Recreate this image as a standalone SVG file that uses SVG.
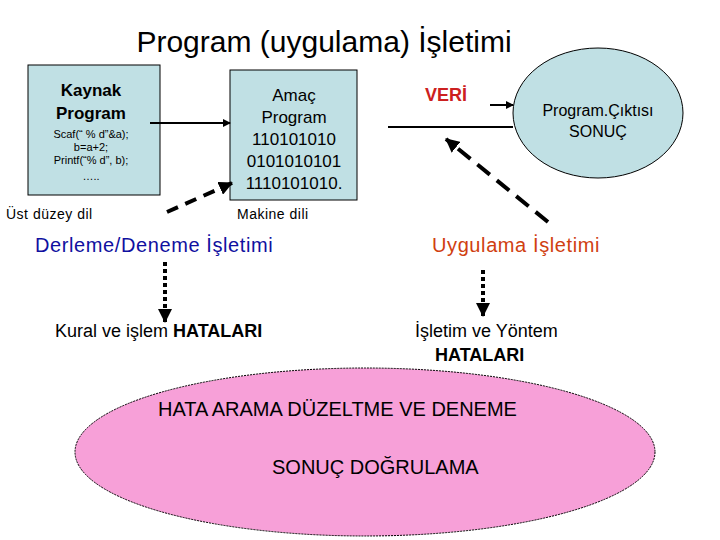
<svg xmlns="http://www.w3.org/2000/svg" width="720" height="540" viewBox="0 0 720 540">
<style>
text{font-family:"Liberation Sans",Arial,sans-serif;fill:#000}
.box{fill:#c0e0e4;stroke:#000;stroke-width:1}
.c{text-anchor:middle}
.b{font-weight:bold}
</style>
<defs>
<marker id="ah" markerWidth="8" markerHeight="8" refX="7" refY="4" orient="auto" markerUnits="userSpaceOnUse"><path d="M0,0L8,4L0,8z" fill="#000"/></marker>
<marker id="ahb" markerWidth="14" markerHeight="14" refX="13" refY="7" orient="auto" markerUnits="userSpaceOnUse"><path d="M0,0L14,7L0,14z" fill="#000"/></marker>
</defs>
<rect width="720" height="540" fill="#fff"/>
<text x="324" y="52" class="c" font-size="30">Program (uygulama) İşletimi</text>
<g id="kaynak">
<rect class="box" x="28" y="65" width="132" height="130"/>
<text x="91" y="96" class="c b" font-size="17">Kaynak</text>
<text x="91" y="119" class="c b" font-size="17">Program</text>
<text x="91" y="138" class="c" font-size="11">Scaf(“ % d”&amp;a);</text>
<text x="91" y="151" class="c" font-size="11">b=a+2;</text>
<text x="91" y="164" class="c" font-size="11">Printf(“% d”, b);</text>
<text x="91" y="180" class="c" font-size="11">…..</text>
</g>
<text x="6" y="219" font-size="14" letter-spacing="0.5">Üst düzey dil</text>
<g id="amac">
<rect class="box" x="230" y="70" width="127" height="130"/>
<text x="294" y="101" class="c" font-size="17">Amaç</text>
<text x="294" y="123" class="c" font-size="17">Program</text>
<text x="294" y="145" class="c" font-size="17">110101010</text>
<text x="294" y="167" class="c" font-size="17">0101010101</text>
<text x="294" y="189" class="c" font-size="17">1110101010.</text>
</g>
<text x="237" y="219" font-size="14" letter-spacing="0.5">Makine dili</text>
<text x="425" y="101" font-size="18" class="b" style="fill:#cc2020">VERİ</text>
<g id="cikti">
<ellipse cx="598" cy="113" rx="85" ry="65" fill="#c0e0e4" stroke="#000"/>
<text x="598" y="116" class="c" font-size="16">Program.Çıktısı</text>
<text x="598" y="137" class="c" font-size="16">SONUÇ</text>
</g>
<text x="35" y="252" font-size="20" letter-spacing="0.6" style="fill:#1010a0">Derleme/Deneme İşletimi</text>
<text x="432" y="252" font-size="20" letter-spacing="0.6" style="fill:#d04010">Uygulama İşletimi</text>
<text x="55" y="337" font-size="18">Kural ve işlem <tspan class="b">HATALARI</tspan></text>
<text x="415" y="337" font-size="18">İşletim ve Yöntem</text>
<text x="435" y="361" font-size="18" class="b">HATALARI</text>
<g id="hata">
<ellipse cx="365" cy="452" rx="290" ry="84" fill="#f7a0d8" stroke="#000" stroke-dasharray="2,1"/>
<text x="158" y="416" font-size="20">HATA ARAMA DÜZELTME VE DENEME</text>
<text x="272" y="474" font-size="20">SONUÇ  DOĞRULAMA</text>
</g>
<g id="connectors" stroke="#000" fill="none">
<line x1="150" y1="123" x2="230" y2="123" stroke-width="2" marker-end="url(#ah)"/>
<line x1="388" y1="127" x2="513" y2="127" stroke-width="2"/>
<line x1="490" y1="105" x2="513" y2="105" stroke-width="2" marker-end="url(#ah)"/>
<line x1="167" y1="212" x2="232" y2="183" stroke-width="4" stroke-dasharray="12,8" marker-end="url(#ahb)"/>
<line x1="548" y1="222" x2="446" y2="139" stroke-width="4" stroke-dasharray="16,9" marker-end="url(#ahb)"/>
<line x1="165" y1="262" x2="165" y2="322" stroke-width="4" stroke-dasharray="4,3" marker-end="url(#ahb)"/>
<line x1="483" y1="270" x2="483" y2="316" stroke-width="4" stroke-dasharray="4,3" marker-end="url(#ahb)"/>
</g>
</svg>
